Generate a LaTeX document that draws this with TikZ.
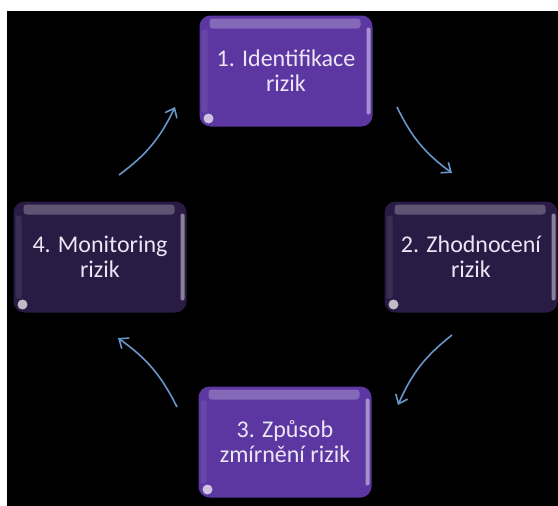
\documentclass[tikz,border=0pt]{standalone}
\usepackage{fontspec}
\setmainfont{Carlito}
\usetikzlibrary{arrows.meta}

\definecolor{riskbright}{RGB}{92,55,162}
\definecolor{riskdark}{RGB}{42,27,68}
\definecolor{risktext}{RGB}{236,230,245}
\definecolor{cyclearrow}{RGB}{105,150,200}

\tikzset{every picture/.style={line width=0.75pt}}
\tikzset{
  riskbox/.style={rounded corners=11pt, minimum width=173pt, minimum height=111pt,
    inner sep=0pt, align=center, text=risktext, font=\fontsize{24}{25}\selectfont,
    path picture={
      \fill[white,opacity=.25,rounded corners=3pt] ([xshift=10pt,yshift=-3pt]path picture bounding box.north west) rectangle ([xshift=-12pt,yshift=-13pt]path picture bounding box.north east);
      \fill[white,opacity=.08,rounded corners=2pt] ([xshift=2pt,yshift=-14pt]path picture bounding box.north west) rectangle ([xshift=8pt,yshift=14pt]path picture bounding box.south west);
      \fill[white,opacity=.45,rounded corners=2pt] ([xshift=-6pt,yshift=-12pt]path picture bounding box.north east) rectangle ([xshift=-2pt,yshift=12pt]path picture bounding box.south east);
      \fill[white,opacity=.7] ([xshift=9pt,yshift=8pt]path picture bounding box.south west) circle (5pt);
    }},
  cyclearc/.style={draw=cyclearrow, line width=1.6pt, -{Straight Barb[length=8pt,width=13pt]}}
}

\begin{document}
\begin{tikzpicture}[x=1pt,y=1pt,yscale=-1,xscale=1]
\useasboundingbox (0,0) rectangle (558,506);
\fill[white] (0,0) rectangle (558,506);
\fill[black] (7,11) rectangle (558,506);

% Process boxes
\node[riskbox, fill=riskbright] (ident) at (286,71) {1. Identifikace\\rizik};
\node[riskbox, fill=riskdark] (zhod) at (471,257) {2. Zhodnocení\\rizik};
\node[riskbox, fill=riskbright] (zpus) at (285,442) {3. Způsob\\zmírnění rizik};
\node[riskbox, fill=riskdark] (monit) at (100,257) {4. Monitoring\\rizik};

% Arrow ends on the cycle
\coordinate (a1s) at (119,175);
\coordinate (a1e) at (175,107);
\coordinate (a2s) at (397,107);
\coordinate (a2e) at (452,173);
\coordinate (a3s) at (452,335);
\coordinate (a3e) at (398,405);
\coordinate (a4s) at (177,407);
\coordinate (a4e) at (118,338);

% Cycle arrows
\draw[cyclearc] (a1s) to[bend left=14] (a1e);
\draw[cyclearc] (a2s) to[bend left=14] (a2e);
\draw[cyclearc] (a3s) to[bend left=14] (a3e);
\draw[cyclearc] (a4s) to[bend left=14] (a4e);

\end{tikzpicture}
\end{document}
